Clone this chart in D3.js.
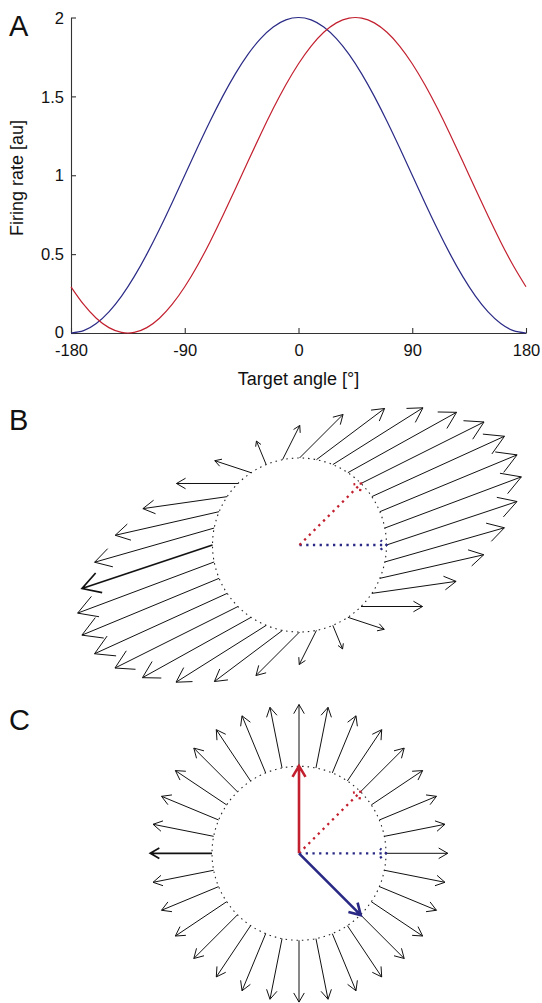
<!DOCTYPE html>
<html><head><meta charset="utf-8">
<script src="https://cdn.jsdelivr.net/npm/d3@7"></script>
<style>
body{margin:0;background:#fff}
text{font-family:"Liberation Sans",Arial,Helvetica,sans-serif;fill:#111}
</style>
</head><body>
<svg id="chart" width="542" height="1003"></svg>
<script>
// ---------- Panel A data ----------
const angleA = [-180,-170,-160,-150,-140,-130,-120,-110,-100,-90,-80,-70,-60,-50,-40,-30,-20,-10,0,10,20,30,40,50,60,70,80,90,100,110,120,130,140,150,160,170,180];
const blueRate = [0,0.0152,0.0603,0.1340,0.2340,0.3572,0.5,0.6580,0.8264,1,1.1736,1.3420,1.5,1.6428,1.7660,1.8660,1.9397,1.9848,2,1.9848,1.9397,1.8660,1.7660,1.6428,1.5,1.3420,1.1736,1,0.8264,0.6580,0.5,0.3572,0.2340,0.1340,0.0603,0.0152,0];
const redRate = [0.2929,0.1808,0.0937,0.0341,0.0038,0.0038,0.0341,0.0937,0.1808,0.2929,0.4264,0.5774,0.7412,0.9128,1.0872,1.2588,1.4226,1.5736,1.7071,1.8192,1.9063,1.9659,1.9962,1.9962,1.9659,1.9063,1.8192,1.7071,1.5736,1.4226,1.2588,1.0872,0.9128,0.7412,0.5774,0.4264,0.2929];
const xTicks = [-180,-90,0,90,180];
const xTickLabels = ["-180","-90","0","90","180"];
const yTicks = [0,0.5,1,1.5,2];
const yTickLabels = ["0","0.5","1","1.5","2"];

// ---------- Panels B / C data ----------
const targetAngle = [0,11.25,22.5,33.75,45,56.25,67.5,78.75,90,101.25,112.5,123.75,135,146.25,157.5,168.75,180,191.25,202.5,213.75,225,236.25,247.5,258.75,270,281.25,292.5,303.75,315,326.25,337.5,348.75];
// target position on unit circle
const targetX = [1,0.981,0.924,0.831,0.707,0.556,0.383,0.195,0,-0.195,-0.383,-0.556,-0.707,-0.831,-0.924,-0.981,-1,-0.981,-0.924,-0.831,-0.707,-0.556,-0.383,-0.195,0,0.195,0.383,0.556,0.707,0.831,0.924,0.981];
const targetY = [0,0.195,0.383,0.556,0.707,0.831,0.924,0.981,1,0.981,0.924,0.831,0.707,0.556,0.383,0.195,0,-0.195,-0.383,-0.556,-0.707,-0.831,-0.924,-0.981,-1,-0.981,-0.924,-0.831,-0.707,-0.556,-0.383,-0.195];
// B: decoded vectors (population vector with actual PDs)
const bU = [1.5,1.569,1.577,1.525,1.414,1.249,1.036,0.783,0.5,0.198,-0.112,-0.418,-0.707,-0.969,-1.194,-1.374,-1.5,-1.569,-1.577,-1.525,-1.414,-1.249,-1.036,-0.783,-0.5,-0.198,0.112,0.418,0.707,0.969,1.194,1.374];
const bV = [0.5,0.588,0.653,0.694,0.707,0.694,0.653,0.588,0.5,0.393,0.271,0.138,0,-0.138,-0.271,-0.393,-0.5,-0.588,-0.653,-0.694,-0.707,-0.694,-0.653,-0.588,-0.5,-0.393,-0.271,-0.138,0,0.138,0.271,0.393];
// C: decoded vectors (optimal linear estimator)
const cU = [1,0.981,0.924,0.831,0.707,0.556,0.383,0.195,0,-0.195,-0.383,-0.556,-0.707,-0.831,-0.924,-0.981,-1,-0.981,-0.924,-0.831,-0.707,-0.556,-0.383,-0.195,0,0.195,0.383,0.556,0.707,0.831,0.924,0.981];
const cV = [0,0.195,0.383,0.556,0.707,0.831,0.924,0.981,1,0.981,0.924,0.831,0.707,0.556,0.383,0.195,0,-0.195,-0.383,-0.556,-0.707,-0.831,-0.924,-0.981,-1,-0.981,-0.924,-0.831,-0.707,-0.556,-0.383,-0.195];
const pdBlue = [1,0];
const pdRed = [0.707,0.707];
const decBlue = [1,-1];
const decRed = [0,1.414];

const RED = "#c2202f", BLUE = "#2a2a86";
const svg = d3.select("#chart");
svg.append("rect").attr("width",542).attr("height",1003).attr("fill","#fff");

// ---------- Panel A ----------
const x = d3.scaleLinear().domain([-180,180]).range([71,526]);
const y = d3.scaleLinear().domain([0,2]).range([333,17.5]);
const gA = svg.append("g");
const yAxis = gA.append("g").attr("transform","translate(71,0)")
  .call(d3.axisLeft(y).tickValues(yTicks).tickSize(-5).tickSizeOuter(0).tickPadding(7)
    .tickFormat((d,i)=>yTickLabels[i]));
const xAxis = gA.append("g").attr("transform","translate(0,333)")
  .call(d3.axisBottom(x).tickValues(xTicks).tickSize(-5).tickSizeOuter(0)
    .tickFormat((d,i)=>xTickLabels[i]));
[yAxis,xAxis].forEach(a=>{
  a.selectAll("path,line").attr("stroke","#333").attr("stroke-width",1.1);
  a.selectAll("text").attr("font-size",16.5).attr("fill","#111")
   .attr("font-family",'"Liberation Sans",Arial,sans-serif');
});
xAxis.selectAll("text").attr("y",23).attr("dy",0);
yAxis.selectAll("text").attr("dy",d=>d===0?"0.26em":"0.34em");

const line = d3.line().x((d,i)=>x(angleA[i])).y(d=>y(d)).curve(d3.curveNatural);
gA.append("path").attr("d",line(blueRate)).attr("fill","none").attr("stroke",BLUE).attr("stroke-width",1.2);
gA.append("path").attr("d",line(redRate)).attr("fill","none").attr("stroke",RED).attr("stroke-width",1.2);

gA.append("text").attr("x",298.5).attr("y",385).attr("text-anchor","middle").attr("font-size",18).text("Target angle [°]");
gA.append("text").attr("transform","translate(23,178) rotate(-90)").attr("text-anchor","middle").attr("font-size",18).text("Firing rate [au]");

svg.append("text").attr("x",9).attr("y",36).attr("font-size",29).text("A");
svg.append("text").attr("x",9).attr("y",430).attr("font-size",29).text("B");
svg.append("text").attr("x",9).attr("y",730).attr("font-size",29).text("C");

// ---------- helpers ----------
function arrowPath(x0,y0,x1,y1,h,w){
  const dx=x1-x0, dy=y1-y0, L=Math.hypot(dx,dy)||1;
  const ux=dx/L, uy=dy/L, px=-uy, py=ux;
  const bx=x1-h*ux, by=y1-h*uy;
  return `M${x0},${y0}L${x1},${y1}M${bx+w*px},${by+w*py}L${x1},${y1}L${bx-w*px},${by-w*py}`;
}
function autoHead(x0,y0,x1,y1){
  const L=Math.hypot(x1-x0,y1-y0); const h=2+0.115*L; return [h,0.58*h];
}
function drawPanel(cx,cy,R,vecU,vecV,scale){
  const sx = d3.scaleLinear().domain([-1,1]).range([cx-R,cx+R]);
  const sy = d3.scaleLinear().domain([-1,1]).range([cy+R,cy-R]);
  const g = svg.append("g");
  g.append("ellipse").attr("cx",sx(0)).attr("cy",sy(0)).attr("rx",sx(1)-sx(0)).attr("ry",sy(-1)-sy(0))
    .attr("fill","none").attr("stroke","#222").attr("stroke-width",1.1).attr("stroke-dasharray","1.5 4");
  targetAngle.forEach((a,i)=>{
    const x0=sx(targetX[i]), y0=sy(targetY[i]);
    const x1=sx(targetX[i]+scale*vecU[i]), y1=sy(targetY[i]+scale*vecV[i]);
    const [h,w]=autoHead(x0,y0,x1,y1);
    g.append("path").attr("d",arrowPath(x0,y0,x1,y1,h,w)).attr("fill","none")
      .attr("stroke","#111").attr("stroke-width", a===180?1.7:1);
  });
  // dotted preferred directions
  [[pdBlue,BLUE],[pdRed,RED]].forEach(([p,col])=>{
    g.append("path").attr("d",arrowPath(sx(0),sy(0),sx(p[0]),sy(p[1]),6,4.7))
      .attr("fill","none").attr("stroke",col).attr("stroke-width",2.3).attr("stroke-dasharray","2.3 4.4");
  });
  return {g,sx,sy};
}

// ---------- Panel B ----------
drawPanel(299.5,545,87,bU,bV,1);

// ---------- Panel C ----------
const C = drawPanel(299,853.3,87,cU,cV,0.71);
[[decRed,RED],[decBlue,BLUE]].forEach(([d,col])=>{
  C.g.append("path").attr("d",arrowPath(C.sx(0),C.sy(0),C.sx(0.71*d[0]),C.sy(0.71*d[1]),11,6.5))
    .attr("fill","none").attr("stroke",col).attr("stroke-width",2.6).attr("stroke-linejoin","miter");
});
</script>
</body></html>
